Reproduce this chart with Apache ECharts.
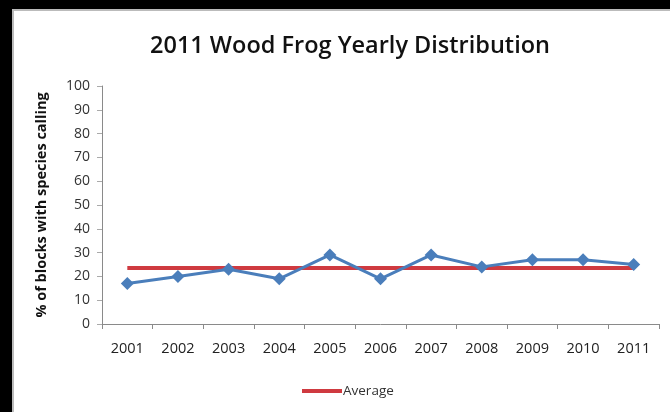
<!DOCTYPE html>
<html>
<head>
<meta charset="utf-8">
<script src="https://cdn.jsdelivr.net/npm/echarts@6/dist/echarts.min.js"></script>
<style>
html,body{margin:0;padding:0;background:#fff;}
#chart{position:absolute;left:0;top:0;width:670px;height:412px;}
</style>
</head>
<body>
<div id="chart"></div>
<script>
var years = ['2001','2002','2003','2004','2005','2006','2007','2008','2009','2010','2011'];
var callingPct = [17, 20, 23, 19, 29, 19, 29, 24, 27, 27, 25];
var averagePct = [23.5, 23.5, 23.5, 23.5, 23.5, 23.5, 23.5, 23.5, 23.5, 23.5, 23.5];
var titleText = '2011 Wood Frog Yearly Distribution';
var yAxisTitle = '% of blocks with species calling';

var chart = echarts.init(document.getElementById('chart'));
chart.setOption({
  backgroundColor: '#ffffff',
  animation: false,
  graphic: [
    {type:'rect', shape:{x:0,y:0,width:670,height:9}, style:{fill:'#000'}},
    {type:'rect', shape:{x:0,y:0,width:12,height:412}, style:{fill:'#000'}},
    {type:'rect', shape:{x:12,y:9,width:2,height:403}, style:{fill:'#bbb'}},
    {type:'rect', shape:{x:12,y:9,width:658,height:2}, style:{fill:'#bbb'}}
  ],
  title: {
    text: titleText,
    left: 345, top: 29, textAlign: 'center',
    textStyle: {fontFamily: 'Open Sans', fontSize: 23.5, fontWeight: 600, color: '#111'}
  },
  legend: {
    data: ['Average'],
    left: 297, top: 379,
    itemWidth: 40, itemHeight: 4, itemGap: 4,
    icon: 'rect',
    textStyle: {fontFamily: 'Open Sans', fontSize: 13.5, color: '#333', padding:[0,0,0,-4]}
  },
  grid: {left: 102, right: 11, top: 86, bottom: 88},
  xAxis: {
    type: 'category', data: years, boundaryGap: true,
    axisLine: {lineStyle: {color: '#8a8a8a', width: 1}},
    axisTick: {show: true, length: 5, lineStyle: {color: '#8a8a8a'}},
    axisLabel: {fontFamily: 'Open Sans', fontSize: 14.5, color: '#222', margin: 17}
  },
  yAxis: {
    type: 'value', min: 0, max: 100, interval: 10,
    name: yAxisTitle, nameLocation: 'middle', nameGap: 53, nameRotate: 90,
    nameTextStyle: {fontFamily: 'Open Sans', fontSize: 14.5, fontWeight: 'bold', color: '#111'},
    axisLine: {show: true, lineStyle: {color: '#8a8a8a', width: 1}},
    axisTick: {show: true, length: 5, inside: false, lineStyle: {color: '#aaa'}},
    splitLine: {show: false},
    axisLabel: {fontFamily: 'Open Sans', fontSize: 14, color: '#333', margin: 12}
  },
  series: [
    {
      name: 'Calling', type: 'line', data: callingPct,
      symbol: 'diamond', symbolSize: 13,
      lineStyle: {color: '#4a7ebb', width: 3},
      itemStyle: {color: '#4a7ebb'},
      z: 3
    },
    {
      name: 'Average', type: 'line', data: averagePct,
      symbol: 'none',
      lineStyle: {color: '#cf3a40', width: 4},
      itemStyle: {color: '#cf3a40'},
      z: 2
    }
  ]
});
</script>
</body>
</html>
